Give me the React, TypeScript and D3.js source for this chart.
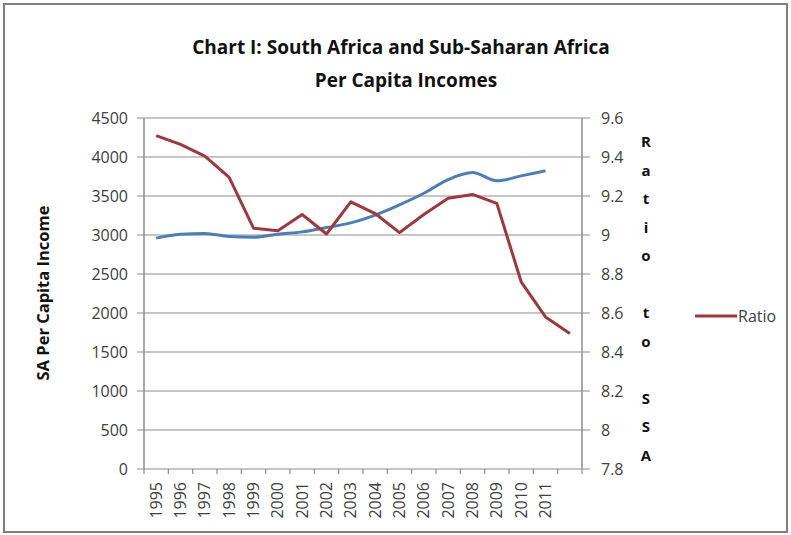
import React, { useRef, useEffect } from "react";
import * as d3 from "d3";

const years = [
  "1995", "1996", "1997", "1998", "1999", "2000", "2001", "2002", "2003",
  "2004", "2005", "2006", "2007", "2008", "2009", "2010", "2011", "2012",
];
// the last category carries a ratio point but no label
const yearLabels = [
  "1995", "1996", "1997", "1998", "1999", "2000", "2001", "2002", "2003",
  "2004", "2005", "2006", "2007", "2008", "2009", "2010", "2011", "",
];
const incomeValues = [
  2960, 3010, 3020, 2980, 2970, 3010, 3040, 3095, 3155, 3255, 3385, 3535,
  3710, 3800, 3695, 3758, 3822, null,
];
const ratioValues = [
  9.51, 9.465, 9.405, 9.295, 9.035, 9.022, 9.105, 9.005, 9.17, 9.11, 9.012,
  9.105, 9.188, 9.208, 9.162, 8.76, 8.58, 8.495,
];
const incomeTicks = [0, 500, 1000, 1500, 2000, 2500, 3000, 3500, 4000, 4500];
const ratioTicks = [7.8, 8, 8.2, 8.4, 8.6, 8.8, 9, 9.2, 9.4, 9.6];
const rightTitle = "Ratio to SSA";

const FONT = "'Open Sans', Lato, sans-serif";

const App = () => {
  const ref = useRef(null);

  useEffect(() => {
    const svg = d3.select(ref.current);
    svg.selectAll("*").remove();

    const left = 144,
      right = 582,
      top = 118,
      bottom = 469;

    // frame
    svg
      .append("rect")
      .attr("x", 4)
      .attr("y", 4)
      .attr("width", 783)
      .attr("height", 528)
      .attr("fill", "#fff")
      .attr("stroke", "#7f7f7f")
      .attr("stroke-width", 2);

    const x = d3
      .scaleBand()
      .domain(years)
      .range([left, right])
      .padding(0);
    const yL = d3.scaleLinear().domain([0, 4500]).range([bottom, top]);
    const yR = d3.scaleLinear().domain([7.8, 9.6]).range([bottom, top]);

    // gridlines
    svg
      .append("g")
      .selectAll("line")
      .data(incomeTicks)
      .enter()
      .append("line")
      .attr("x1", left - 7)
      .attr("x2", right + 8)
      .attr("y1", (d) => yL(d))
      .attr("y2", (d) => yL(d))
      .attr("stroke", "#8c8c8c")
      .attr("stroke-width", 1.2);

    // axis lines
    const axisColor = "#8c8c8c";
    svg.append("line").attr("x1", left).attr("x2", left).attr("y1", top).attr("y2", bottom).attr("stroke", axisColor).attr("stroke-width", 1.5);
    svg.append("line").attr("x1", right).attr("x2", right).attr("y1", top).attr("y2", bottom).attr("stroke", axisColor).attr("stroke-width", 1.5);

    // category tick marks at band edges
    const edges = years.map((d) => x(d)).concat([right]);
    svg
      .append("g")
      .selectAll("line")
      .data(edges)
      .enter()
      .append("line")
      .attr("x1", (d) => d)
      .attr("x2", (d) => d)
      .attr("y1", bottom)
      .attr("y2", bottom + 5)
      .attr("stroke", axisColor)
      .attr("stroke-width", 1.2);

    // left tick labels
    svg
      .append("g")
      .selectAll("text")
      .data(incomeTicks)
      .enter()
      .append("text")
      .attr("x", 128)
      .attr("y", (d) => yL(d))
      .attr("dy", "0.35em")
      .attr("text-anchor", "end")
      .attr("font-family", FONT)
      .attr("font-size", 16)
      .attr("fill", "#404040")
      .text((d) => d);

    // right tick labels
    svg
      .append("g")
      .selectAll("text")
      .data(ratioTicks)
      .enter()
      .append("text")
      .attr("x", 601)
      .attr("y", (d) => yR(d))
      .attr("dy", "0.35em")
      .attr("text-anchor", "start")
      .attr("font-family", FONT)
      .attr("font-size", 16)
      .attr("fill", "#404040")
      .text((d) => d);

    // year labels
    svg
      .append("g")
      .selectAll("text")
      .data(years)
      .enter()
      .append("text")
      .attr(
        "transform",
        (d) => `translate(${x(d) + x.bandwidth() / 2 + 5.5},${bottom + 13}) rotate(-90)`
      )
      .attr("text-anchor", "end")
      .attr("font-family", FONT)
      .attr("font-size", 16)
      .attr("fill", "#404040")
      .text((d, i) => yearLabels[i]);

    const cx = (d) => x(d) + x.bandwidth() / 2;

    // income line (left axis)
    const incomeLine = d3
      .line()
      .defined((d) => d[1] != null)
      .x((d) => cx(d[0]))
      .y((d) => yL(d[1]))
      .curve(d3.curveMonotoneX);
    svg
      .append("path")
      .datum(years.map((y, i) => [y, incomeValues[i]]))
      .attr("d", incomeLine)
      .attr("fill", "none")
      .attr("stroke", "#4a7ebb")
      .attr("stroke-width", 3)
      .attr("stroke-linejoin", "round");

    // ratio line (right axis)
    const ratioLine = d3
      .line()
      .x((d) => cx(d[0]))
      .y((d) => yR(d[1]));
    svg
      .append("path")
      .datum(years.map((y, i) => [y, ratioValues[i]]))
      .attr("d", ratioLine)
      .attr("fill", "none")
      .attr("stroke", "#a2373b")
      .attr("stroke-width", 3)
      .attr("stroke-linejoin", "round");

    // title
    svg
      .append("text")
      .attr("x", 401)
      .attr("y", 54)
      .attr("text-anchor", "middle")
      .attr("font-family", FONT)
      .attr("font-size", 19)
      .attr("font-weight", "bold")
      .attr("fill", "#111")
      .text("Chart I: South Africa and Sub-Saharan Africa");
    svg
      .append("text")
      .attr("x", 406)
      .attr("y", 87)
      .attr("text-anchor", "middle")
      .attr("font-family", FONT)
      .attr("font-size", 19)
      .attr("font-weight", "bold")
      .attr("fill", "#111")
      .text("Per Capita Incomes");

    // left axis title
    svg
      .append("text")
      .attr("transform", "translate(49,293) rotate(-90)")
      .attr("text-anchor", "middle")
      .attr("font-family", FONT)
      .attr("font-size", 16.5)
      .attr("font-weight", "bold")
      .attr("fill", "#111")
      .text("SA Per Capita Income");

    // right axis title, stacked letters
    svg
      .append("g")
      .selectAll("text")
      .data(rightTitle.split(""))
      .enter()
      .append("text")
      .attr("x", 646)
      .attr("y", (d, i) => 142 + i * 28.5)
      .attr("dy", "0.35em")
      .attr("text-anchor", "middle")
      .attr("font-family", FONT)
      .attr("font-size", 15)
      .attr("font-weight", "bold")
      .attr("fill", "#111")
      .text((d) => d);

    // legend
    svg
      .append("line")
      .attr("x1", 695)
      .attr("x2", 737)
      .attr("y1", 316)
      .attr("y2", 316)
      .attr("stroke", "#a2373b")
      .attr("stroke-width", 3);
    svg
      .append("text")
      .attr("x", 738)
      .attr("y", 316)
      .attr("dy", "0.35em")
      .attr("font-family", FONT)
      .attr("font-size", 16)
      .attr("fill", "#404040")
      .text("Ratio");
  }, []);

  return (
    <svg
      ref={ref}
      width={791}
      height={535}
      style={{ position: "absolute", left: 0, top: 0, background: "#fff" }}
    />
  );
};

export default App;
